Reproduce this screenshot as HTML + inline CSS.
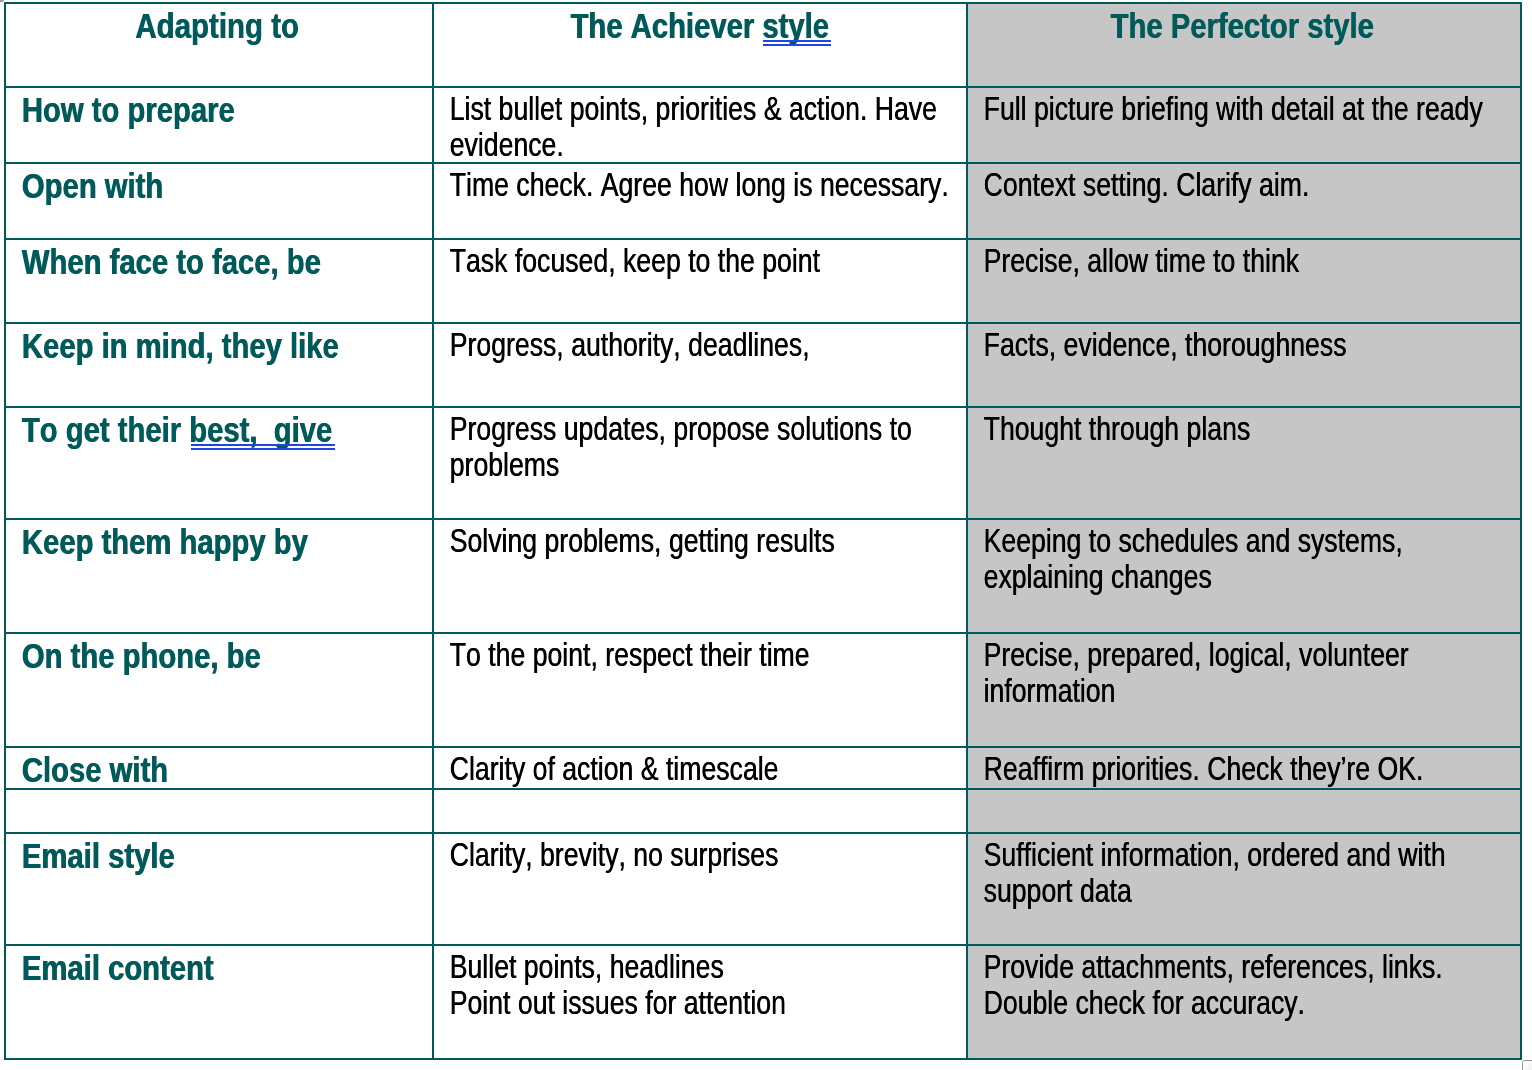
<!DOCTYPE html>
<html lang="en"><head><meta charset="utf-8"><title>Adapting to the Achiever and Perfector styles</title>
<style>
html,body{margin:0;padding:0;background:#fff;}
body{width:1532px;height:1070px;position:relative;overflow:hidden;font-family:"Liberation Sans",sans-serif;}
table{position:absolute;left:4px;top:2px;width:1518px;table-layout:fixed;border-collapse:separate;border-spacing:0;border-left:2px solid #005a5a;border-top:2px solid #005a5a;}
td,th{position:relative;box-sizing:border-box;padding:0;margin:0;border-right:2px solid #005a5a;border-bottom:2px solid #005a5a;overflow:visible;text-align:left;font-weight:normal;vertical-align:top;}
.c3{background:#c6c6c6;}
.t{position:absolute;left:0;margin:0;font-kerning:none;font-variant-ligatures:none;white-space:nowrap;transform-origin:0 0;line-height:36px;height:36px;}
.r{font-size:32.4px;color:#000;text-shadow:0.55px 0 0 #000;}
.b{font-size:35.8px;color:#005a5a;font-weight:bold;text-shadow:0.8px 0 0 #005a5a;}
u{text-decoration:none;}
.ul{position:absolute;height:2px;background:#1f46e0;}
.corner{position:absolute;left:0;top:0;width:4px;height:2px;background:#9a9a9a;border-radius:0 0 3px 0;}
.grip{position:absolute;left:1522px;top:1060px;width:14px;height:14px;box-sizing:border-box;border:1.6px solid #909090;border-radius:2.5px;background:linear-gradient(135deg,#fff 25%,#f1f1f1 60%);}
</style></head><body>
<table>
<colgroup><col style="width:428px"><col style="width:534px"><col style="width:554px"></colgroup>

<tr style="height:84px">
<th style="height:84px"><p class="t b" style="top:4px;transform:translateX(129.04px) scaleX(0.8232)">Adapting to</p></th>
<th style="height:84px"><p class="t b" style="top:4px;transform:translateX(136.25px) scaleX(0.8169)">The Achiever <u>style</u></p><i class="ul" style="left:329px;top:36px;width:68px"></i><i class="ul" style="left:329px;top:40px;width:68px"></i></th>
<th class="c3" style="height:84px"><p class="t b" style="top:4px;transform:translateX(142.31px) scaleX(0.8169)">The Perfector style</p></th>
</tr>
<tr style="height:76px">
<td style="height:76px"><p class="t b" style="top:4px;transform:translateX(15.60px) scaleX(0.8169)">How to prepare</p></td>
<td style="height:76px"><p class="t r" style="top:3px;transform:translateX(15.50px) scaleX(0.8226)">List bullet points, priorities &amp; action. Have</p><p class="t r" style="top:39px;transform:translateX(15.50px) scaleX(0.8226)">evidence.</p></td>
<td class="c3" style="height:76px"><p class="t r" style="top:3px;transform:translateX(15.40px) scaleX(0.8226)">Full picture briefing with detail at the ready</p></td>
</tr>
<tr style="height:76px">
<td style="height:76px"><p class="t b" style="top:4px;transform:translateX(15.60px) scaleX(0.8169)">Open with</p></td>
<td style="height:76px"><p class="t r" style="top:3px;transform:translateX(15.50px) scaleX(0.8226)">Time check. Agree how long is necessary.</p></td>
<td class="c3" style="height:76px"><p class="t r" style="top:3px;transform:translateX(15.40px) scaleX(0.8226)">Context setting. Clarify aim.</p></td>
</tr>
<tr style="height:84px">
<td style="height:84px"><p class="t b" style="top:4px;transform:translateX(15.60px) scaleX(0.8169)">When face to face, be</p></td>
<td style="height:84px"><p class="t r" style="top:3px;transform:translateX(15.50px) scaleX(0.8226)">Task focused, keep to the point</p></td>
<td class="c3" style="height:84px"><p class="t r" style="top:3px;transform:translateX(15.40px) scaleX(0.8226)">Precise, allow time to think</p></td>
</tr>
<tr style="height:84px">
<td style="height:84px"><p class="t b" style="top:4px;transform:translateX(15.60px) scaleX(0.8169)">Keep in mind, they like</p></td>
<td style="height:84px"><p class="t r" style="top:3px;transform:translateX(15.50px) scaleX(0.8226)">Progress, authority, deadlines,</p></td>
<td class="c3" style="height:84px"><p class="t r" style="top:3px;transform:translateX(15.40px) scaleX(0.8226)">Facts, evidence, thoroughness</p></td>
</tr>
<tr style="height:112px">
<td style="height:112px"><p class="t b" style="top:4px;transform:translateX(15.60px) scaleX(0.8169)">To get their <u>best,&nbsp; give</u></p><i class="ul" style="left:185px;top:36px;width:144px"></i><i class="ul" style="left:185px;top:40px;width:144px"></i></td>
<td style="height:112px"><p class="t r" style="top:3px;transform:translateX(15.50px) scaleX(0.8226)">Progress updates, propose solutions to</p><p class="t r" style="top:39px;transform:translateX(15.50px) scaleX(0.8226)">problems</p></td>
<td class="c3" style="height:112px"><p class="t r" style="top:3px;transform:translateX(15.40px) scaleX(0.8226)">Thought through plans</p></td>
</tr>
<tr style="height:114px">
<td style="height:114px"><p class="t b" style="top:4px;transform:translateX(15.60px) scaleX(0.8169)">Keep them happy by</p></td>
<td style="height:114px"><p class="t r" style="top:3px;transform:translateX(15.50px) scaleX(0.8226)">Solving problems, getting results</p></td>
<td class="c3" style="height:114px"><p class="t r" style="top:3px;transform:translateX(15.40px) scaleX(0.8226)">Keeping to schedules and systems,</p><p class="t r" style="top:39px;transform:translateX(15.40px) scaleX(0.8226)">explaining changes</p></td>
</tr>
<tr style="height:114px">
<td style="height:114px"><p class="t b" style="top:4px;transform:translateX(15.60px) scaleX(0.8169)">On the phone, be</p></td>
<td style="height:114px"><p class="t r" style="top:3px;transform:translateX(15.50px) scaleX(0.8226)">To the point, respect their time</p></td>
<td class="c3" style="height:114px"><p class="t r" style="top:3px;transform:translateX(15.40px) scaleX(0.8226)">Precise, prepared, logical, volunteer</p><p class="t r" style="top:39px;transform:translateX(15.40px) scaleX(0.8226)">information</p></td>
</tr>
<tr style="height:42px">
<td style="height:42px"><p class="t b" style="top:4px;transform:translateX(15.60px) scaleX(0.8169)">Close with</p></td>
<td style="height:42px"><p class="t r" style="top:3px;transform:translateX(15.50px) scaleX(0.8226)">Clarity of action &amp; timescale</p></td>
<td class="c3" style="height:42px"><p class="t r" style="top:3px;transform:translateX(15.40px) scaleX(0.8226)">Reaffirm priorities. Check they’re OK.</p></td>
</tr>
<tr style="height:44px">
<td style="height:44px"></td>
<td style="height:44px"></td>
<td class="c3" style="height:44px"></td>
</tr>
<tr style="height:112px">
<td style="height:112px"><p class="t b" style="top:4px;transform:translateX(15.60px) scaleX(0.8169)">Email style</p></td>
<td style="height:112px"><p class="t r" style="top:3px;transform:translateX(15.50px) scaleX(0.8226)">Clarity, brevity, no surprises</p></td>
<td class="c3" style="height:112px"><p class="t r" style="top:3px;transform:translateX(15.40px) scaleX(0.8226)">Sufficient information, ordered and with</p><p class="t r" style="top:39px;transform:translateX(15.40px) scaleX(0.8226)">support data</p></td>
</tr>
<tr style="height:114px">
<td style="height:114px"><p class="t b" style="top:4px;transform:translateX(15.60px) scaleX(0.8169)">Email content</p></td>
<td style="height:114px"><p class="t r" style="top:3px;transform:translateX(15.50px) scaleX(0.8226)">Bullet points, headlines</p><p class="t r" style="top:39px;transform:translateX(15.50px) scaleX(0.8226)">Point out issues for attention</p></td>
<td class="c3" style="height:114px"><p class="t r" style="top:3px;transform:translateX(15.40px) scaleX(0.8226)">Provide attachments, references, links.</p><p class="t r" style="top:39px;transform:translateX(15.40px) scaleX(0.8226)">Double check for accuracy.</p></td>
</tr>
</table>
<div class="corner"></div>
<div class="grip"></div>
</body></html>
